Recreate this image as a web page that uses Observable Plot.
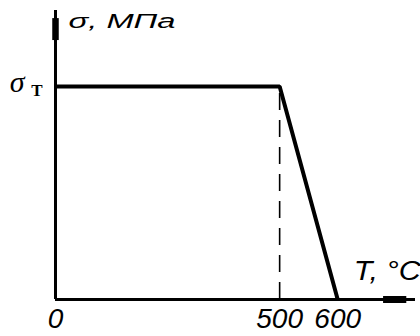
<!DOCTYPE html>
<html>
<head>
<meta charset="utf-8">
<script src="https://cdn.jsdelivr.net/npm/d3@7"></script>
<script src="https://cdn.jsdelivr.net/npm/@observablehq/plot@0.6"></script>
<style>
  html, body { margin: 0; padding: 0; background: #fff; }
  svg { display: block; }
</style>
</head>
<body>
<div id="chart"></div>
<script>
// Schematic: yield stress vs temperature
const temps = [0, 500, 600];          // T, °C
const stress = [1, 1, 0];             // σ as a fraction of σT
const xTicks = [0, 500, 600];
const xTickLabels = ["0", "500", "600"];
const yLabel = "σ, МПа";
const xLabel = "T, °C";
const xMax = 734;                     // axis arrow end (°C)
const yMax = 1.357;                   // axis arrow end (σT = 1)

const data = temps.map((t, i) => ({T: t, s: stress[i]}));
const ticks = xTicks.map((t, i) => ({T: t, label: xTickLabels[i]}));

// the drawing is schematic: the 500–600 °C stretch is drawn wider than scale
const warp = d3.scaleLinear().domain([0, 500, 600]).range([0, 500, 629.5]);

const sans = "'Liberation Sans', Arial, sans-serif";
const serif = "'Liberation Serif', 'Times New Roman', serif";

const chart = Plot.plot({
  width: 420,
  height: 336,
  marginLeft: 55,
  marginRight: 5,
  marginTop: 10,
  marginBottom: 37,
  style: {fontFamily: sans, background: "#fff", color: "#000"},
  x: {transform: warp, axis: null, nice: false, zero: true},
  y: {domain: [0, yMax], axis: null},
  marks: [
    // dashed guide at 500 °C
    Plot.ruleX([500], {y1: 0, y2: 1, strokeWidth: 1.6, strokeDasharray: "17,10"}),
    // axes
    Plot.ruleY([0], {x1: 0, x2: xMax, strokeWidth: 3}),
    Plot.ruleX([0], {y1: 0, y2: yMax, strokeWidth: 3}),
    // arrow blocks
    Plot.ruleX([0], {y1: yMax * 0.896, y2: yMax * 0.972, strokeWidth: 6.5}),
    Plot.ruleY([0], {x1: 679, x2: 719, strokeWidth: 7}),
    // data line
    Plot.line(data, {x: "T", y: "s", strokeWidth: 4, strokeLinejoin: "miter", strokeLinecap: "butt"}),
    // tick labels
    Plot.text(ticks, {x: "T", y: 0, text: "label", fontSize: 28, fontStyle: "italic", lineAnchor: "bottom", dy: 28, textAnchor: "middle"}),
    // axis labels
    Plot.text([yLabel], {x: 0, y: yMax, text: d => d, textAnchor: "start", lineAnchor: "bottom", dx: 13, dy: 17, fontSize: 20, fontStyle: "italic"}),
    Plot.text([xLabel], {x: 600, y: 0, text: d => d, textAnchor: "start", lineAnchor: "bottom", dx: 16, dy: -20, fontSize: 27, fontStyle: "italic"}),
    // σT label
    Plot.text(["σ"], {x: 0, y: 1, text: d => d, textAnchor: "end", lineAnchor: "bottom", dx: -31, dy: 5, fontSize: 30, fontStyle: "italic", fontFamily: serif}),
    Plot.text(["T"], {x: 0, y: 1, text: d => d, textAnchor: "end", lineAnchor: "bottom", dx: -13, dy: 9, fontSize: 17, fontWeight: "bold", fontFamily: serif})
  ]
});
// the source lettering of the axis labels is drawn wide
d3.select(chart).selectAll("text").each(function() {
  const t = this.textContent;
  if (t === yLabel) d3.select(this).attr("textLength", 107).attr("lengthAdjust", "spacingAndGlyphs");
  if (t === xLabel) d3.select(this).attr("textLength", 67).attr("lengthAdjust", "spacingAndGlyphs");
});
document.getElementById("chart").appendChild(chart);
</script>
</body>
</html>
